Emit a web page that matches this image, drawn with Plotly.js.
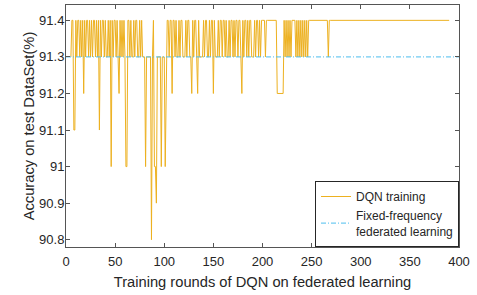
<!DOCTYPE html>
<html><head><meta charset="utf-8">
<script src="https://cdn.plot.ly/plotly-3.0.1.min.js"></script>
<style>html,body{margin:0;padding:0;background:#fff}#chart{width:477px;height:295px}</style>
</head><body><div id="chart"></div>
<script>
// DQN training accuracy, rounds 5..400
const firstRound = 5;
const dqnAccuracy = [
  91.3, 91.4, 91.4, 91.1, 91.1,
  91.4, 91.3, 91.4, 91.4, 91.3, 91.4, 91.3, 91.4, 91.2, 91.4,
  91.3, 91.4, 91.4, 91.3, 91.4, 91.3, 91.4, 91.3, 91.4, 91.4,
  91.3, 91.4, 91.3, 91.4, 91.1, 91.4, 91.3, 91.4, 91.4, 91.3,
  91.4, 91.3, 91.3, 91.4, 91.3, 91.4, 91.0, 91.4, 91.3, 91.4,
  91.4, 91.3, 91.4, 91.3, 91.2, 91.4, 91.3, 91.4, 91.3, 91.4,
  91.3, 91.0, 91.0, 91.4, 91.4, 91.3, 91.4, 91.3, 91.3, 91.4,
  91.3, 91.4, 91.4, 91.3, 91.3, 91.4, 91.3, 91.4, 91.3, 91.3,
  91.3, 91.0, 91.3, 91.3, 91.3, 91.3, 91.3, 90.8, 91.3, 91.4,
  91.0, 91.0, 90.9, 91.3, 91.3, 91.3, 91.3, 91.0, 91.3, 91.3,
  91.3, 91.0, 91.3, 91.4, 91.4, 91.3, 91.4, 91.4, 91.2, 91.4,
  91.4, 91.3, 91.4, 91.3, 91.3, 91.4, 91.3, 91.4, 91.4, 91.3,
  91.3, 91.3, 91.4, 91.3, 91.4, 91.4, 91.3, 91.3, 91.2, 91.4,
  91.3, 91.4, 91.4, 91.3, 91.2, 91.4, 91.3, 91.3, 91.3, 91.3,
  91.4, 91.3, 91.4, 91.4, 91.3, 91.3, 91.4, 91.3, 91.4, 91.4,
  91.2, 91.4, 91.3, 91.3, 91.3, 91.4, 91.3, 91.4, 91.4, 91.3,
  91.4, 91.4, 91.3, 91.4, 91.3, 91.3, 91.4, 91.3, 91.4, 91.4,
  91.3, 91.4, 91.3, 91.4, 91.4, 91.3, 91.4, 91.4, 91.3, 91.2,
  91.4, 91.3, 91.4, 91.4, 91.3, 91.4, 91.3, 91.4, 91.4, 91.3,
  91.3, 91.3, 91.4, 91.3, 91.4, 91.4, 91.3, 91.4, 91.3, 91.4,
  91.4, 91.4, 91.4, 91.3, 91.4, 91.4, 91.4, 91.4, 91.4, 91.4,
  91.4, 91.4, 91.4, 91.4, 91.4, 91.2, 91.2, 91.2, 91.2, 91.2,
  91.2, 91.2, 91.4, 91.3, 91.4, 91.3, 91.4, 91.3, 91.4, 91.3,
  91.4, 91.4, 91.4, 91.4, 91.3, 91.4, 91.3, 91.4, 91.3, 91.4,
  91.3, 91.4, 91.3, 91.4, 91.3, 91.4, 91.3, 91.4, 91.4, 91.4,
  91.4, 91.4, 91.4, 91.4, 91.4, 91.4, 91.4, 91.4, 91.4, 91.4,
  91.4, 91.4, 91.4, 91.4, 91.4, 91.4, 91.4, 91.3, 91.4, 91.4,
  91.4, 91.4, 91.4, 91.4, 91.4, 91.4, 91.4, 91.4, 91.4, 91.4,
  91.4, 91.4, 91.4, 91.4, 91.4, 91.4, 91.4, 91.4, 91.4, 91.4,
  91.4, 91.4, 91.4, 91.4, 91.4, 91.4, 91.4, 91.4, 91.4, 91.4,
  91.4, 91.4, 91.4, 91.4, 91.4, 91.4, 91.4, 91.4, 91.4, 91.4,
  91.4, 91.4, 91.4, 91.4, 91.4, 91.4, 91.4, 91.4, 91.4, 91.4,
  91.4, 91.4, 91.4, 91.4, 91.4, 91.4, 91.4, 91.4, 91.4, 91.4,
  91.4, 91.4, 91.4, 91.4, 91.4, 91.4, 91.4, 91.4, 91.4, 91.4,
  91.4, 91.4, 91.4, 91.4, 91.4, 91.4, 91.4, 91.4, 91.4, 91.4,
  91.4, 91.4, 91.4, 91.4, 91.4, 91.4, 91.4, 91.4, 91.4, 91.4,
  91.4, 91.4, 91.4, 91.4, 91.4, 91.4, 91.4, 91.4, 91.4, 91.4,
  91.4, 91.4, 91.4, 91.4, 91.4, 91.4, 91.4, 91.4, 91.4, 91.4,
  91.4, 91.4, 91.4, 91.4, 91.4, 91.4, 91.4, 91.4, 91.4, 91.4,
  91.4
];
const dqnRounds = dqnAccuracy.map((_, i) => firstRound + i);

const fixedRounds = [0, 400];
const fixedAccuracy = [91.3, 91.3];

const xTickVals = [0, 50, 100, 150, 200, 250, 300, 350, 400];
const yTickVals = [90.8, 90.9, 91.0, 91.1, 91.2, 91.3, 91.4];
const yTickText = ['90.8', '90.9', '91', '91.1', '91.2', '91.3', '91.4'];

const axisColor = '#555555';
const traces = [
  {x: dqnRounds, y: dqnAccuracy, type: 'scatter', mode: 'lines', name: 'DQN training',
   line: {color: '#EDB120', width: 1}},
  {x: fixedRounds, y: fixedAccuracy, type: 'scatter', mode: 'lines', name: 'Fixed-frequency<br>federated learning',
   line: {color: '#4DBEEE', width: 1, dash: '5px,2px,1px,2px'}}
];
const layout = {
  width: 477, height: 295,
  margin: {l: 66, r: 18, t: 5, b: 48, pad: 0},
  paper_bgcolor: '#ffffff', plot_bgcolor: '#ffffff',
  font: {family: '"Liberation Sans", Arial, sans-serif', size: 13, color: '#262626'},
  showlegend: true,
  legend: {x: 1, y: 0, xanchor: 'right', yanchor: 'bottom', bordercolor: '#262626', borderwidth: 1,
           bgcolor: '#ffffff', font: {size: 12}, tracegroupgap: 0, itemwidth: 30},
  xaxis: {range: [0, 400], tickmode: 'array', tickvals: xTickVals, ticks: 'inside', ticklen: 4,
          tickcolor: axisColor, showline: true, linecolor: axisColor, linewidth: 1, mirror: 'ticks',
          showgrid: false, zeroline: false, ticklabelstandoff: 2,
          title: {text: 'Training rounds of DQN on federated learning', font: {size: 14.7}, standoff: 9}},
  yaxis: {range: [90.78, 91.442], tickmode: 'array', tickvals: yTickVals, ticktext: yTickText,
          ticks: 'inside', ticklen: 4, tickcolor: axisColor, showline: true, linecolor: axisColor,
          linewidth: 1, mirror: 'ticks', showgrid: false, zeroline: false, ticklabelstandoff: -2,
          title: {text: 'Accuracy on test DataSet(%)', font: {size: 14.7}, standoff: 0}}
};
Plotly.newPlot('chart', traces, layout, {displayModeBar: false, staticPlot: true});
</script>
</body></html>
